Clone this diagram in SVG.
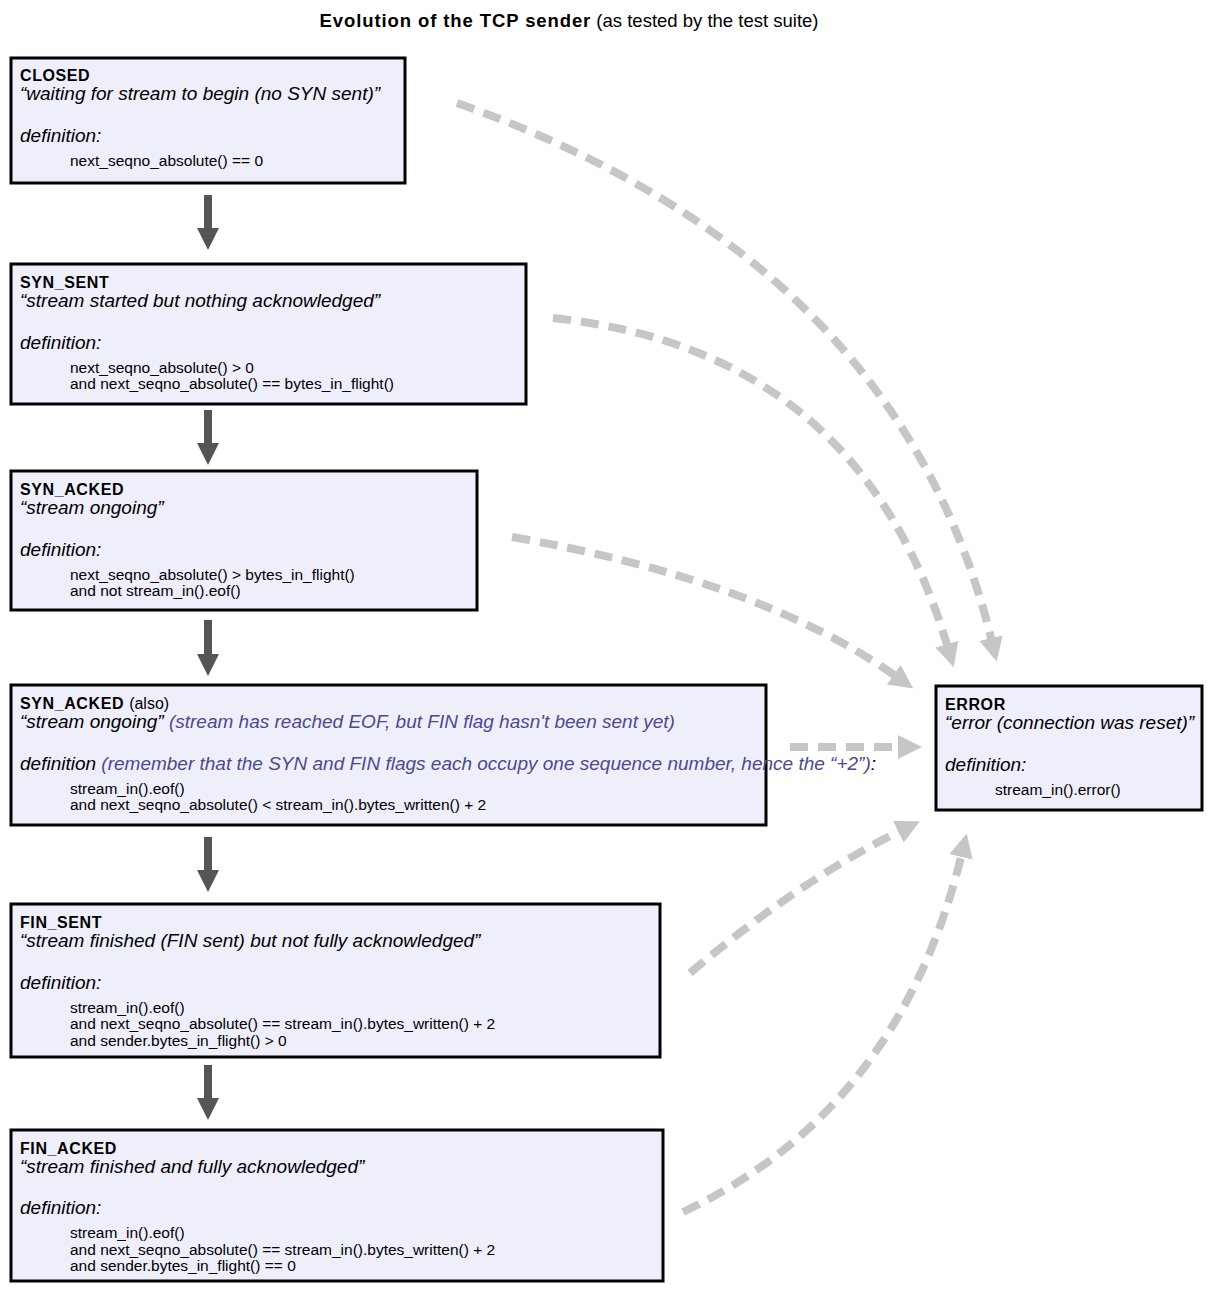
<svg xmlns="http://www.w3.org/2000/svg" width="1226" height="1294" viewBox="0 0 1226 1294">
<style>
text{font-family:"Liberation Sans",Arial,sans-serif;fill:#000}
.box{fill:#efeffb;stroke:#000;stroke-width:3}
.nm{font-weight:bold;font-size:16px;letter-spacing:0.6px}
.q{font-style:italic;font-size:19px}
.c{font-size:15.5px}
.p{fill:#4a4a8c;font-style:italic}
.dn{stroke:#555;stroke-width:8;fill:none}
.dash{stroke:#c6c6c6;stroke-width:8;fill:none;stroke-dasharray:18 10}
</style>
<defs>
<marker id="ah" markerUnits="userSpaceOnUse" markerWidth="24" markerHeight="24" refX="4" refY="12" orient="auto"><path d="M0,0 L24,12 L0,24 Z" fill="#c6c6c6"/></marker>
<marker id="dh" markerUnits="userSpaceOnUse" markerWidth="22" markerHeight="22" refX="2" refY="11" orient="auto"><path d="M0,0 L22,11 L0,22 Z" fill="#555"/></marker>
</defs>
<rect width="1226" height="1294" fill="#fff"/>
<text x="569" y="27" text-anchor="middle" font-size="18.5"><tspan font-weight="900" letter-spacing="0.9">Evolution of the TCP sender</tspan> (as tested by the test suite)</text>
<g id="connectors">
<path class="dn" d="M208,195 V230" marker-end="url(#dh)"/>
<path class="dn" d="M208,410 V445" marker-end="url(#dh)"/>
<path class="dn" d="M208,620 V656" marker-end="url(#dh)"/>
<path class="dn" d="M208,837 V872" marker-end="url(#dh)"/>
<path class="dn" d="M208,1065 V1100" marker-end="url(#dh)"/>
<path class="dash" d="M457,103 Q900,260 992,642" marker-end="url(#ah)"/>
<path class="dash" d="M553,318 Q860,350 948,648" marker-end="url(#ah)"/>
<path class="dash" d="M512,537 Q760,580 897,677" marker-end="url(#ah)"/>
<path class="dash" d="M790,747 H902" marker-end="url(#ah)"/>
<path class="dash" d="M690,973 Q800,880 902,830" marker-end="url(#ah)"/>
<path class="dash" d="M683,1212 Q900,1110 962,853" marker-end="url(#ah)"/>
</g>
<g id="closed"><rect class="box" x="11" y="58" width="394" height="125"/>
<text class="nm" x="20" y="81">CLOSED</text><text class="q" x="20" y="100">“waiting for stream to begin (no SYN sent)”</text>
<text class="q" x="20" y="142">definition:</text><text class="c" x="70" y="166">next_seqno_absolute() == 0</text></g>
<g id="syn_sent"><rect class="box" x="11" y="264" width="515" height="140"/>
<text class="nm" x="20" y="288">SYN_SENT</text><text class="q" x="20" y="307">“stream started but nothing acknowledged”</text>
<text class="q" x="20" y="349">definition:</text><text class="c" x="70" y="373">next_seqno_absolute() &gt; 0</text><text class="c" x="70" y="389">and next_seqno_absolute() == bytes_in_flight()</text></g>
<g id="syn_acked"><rect class="box" x="11" y="471" width="466" height="139"/>
<text class="nm" x="20" y="495">SYN_ACKED</text><text class="q" x="20" y="514">“stream ongoing”</text>
<text class="q" x="20" y="556">definition:</text><text class="c" x="70" y="580">next_seqno_absolute() &gt; bytes_in_flight()</text><text class="c" x="70" y="596">and not stream_in().eof()</text></g>
<g id="syn_acked_also"><rect class="box" x="11" y="685" width="755" height="140"/>
<text class="nm" x="20" y="709">SYN_ACKED <tspan font-weight="normal" letter-spacing="0">(also)</tspan></text><text class="q" x="20" y="728">“stream ongoing” <tspan class="p">(stream has reached EOF, but FIN flag hasn't been sent yet)</tspan></text>
<text class="q" x="20" y="770">definition <tspan class="p">(remember that the SYN and FIN flags each occupy one sequence number, hence the “+2”)</tspan>:</text>
<text class="c" x="70" y="794">stream_in().eof()</text><text class="c" x="70" y="810">and next_seqno_absolute() &lt; stream_in().bytes_written() + 2</text></g>
<g id="fin_sent"><rect class="box" x="11" y="904" width="649" height="153"/>
<text class="nm" x="20" y="928">FIN_SENT</text><text class="q" x="20" y="947">“stream finished (FIN sent) but not fully acknowledged”</text>
<text class="q" x="20" y="989">definition:</text><text class="c" x="70" y="1013">stream_in().eof()</text><text class="c" x="70" y="1029">and next_seqno_absolute() == stream_in().bytes_written() + 2</text><text class="c" x="70" y="1046">and sender.bytes_in_flight() &gt; 0</text></g>
<g id="fin_acked"><rect class="box" x="11" y="1130" width="652" height="151"/>
<text class="nm" x="20" y="1154">FIN_ACKED</text><text class="q" x="20" y="1173">“stream finished and fully acknowledged”</text>
<text class="q" x="20" y="1214">definition:</text><text class="c" x="70" y="1238">stream_in().eof()</text><text class="c" x="70" y="1255">and next_seqno_absolute() == stream_in().bytes_written() + 2</text><text class="c" x="70" y="1271">and sender.bytes_in_flight() == 0</text></g>
<g id="error"><rect class="box" x="936" y="686" width="266" height="124"/>
<text class="nm" x="945" y="710">ERROR</text><text class="q" x="945" y="729">“error (connection was reset)”</text>
<text class="q" x="945" y="771">definition:</text><text class="c" x="995" y="795">stream_in().error()</text></g>
</svg>
